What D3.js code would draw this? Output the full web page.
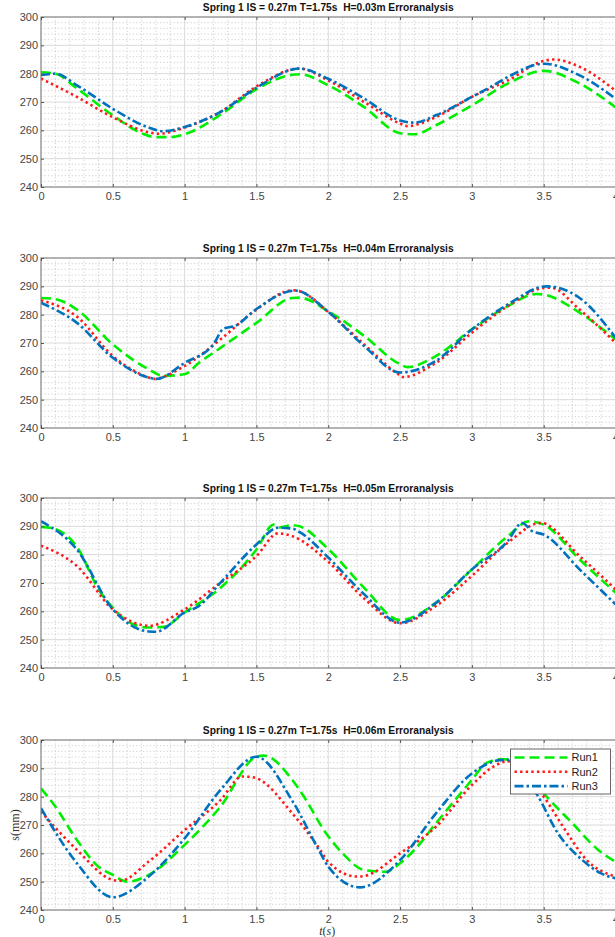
<!DOCTYPE html>
<html>
<head>
<meta charset="utf-8">
<script src="https://cdn.jsdelivr.net/npm/d3@7/dist/d3.min.js"></script>
<style>
  html, body { margin: 0; padding: 0; background: #fff; }
  svg { display: block; }
</style>
</head>
<body>
<svg id="chart" width="615" height="937"></svg>
<script>
// ---------- DATA ----------
const heights = ["0.03", "0.04", "0.05", "0.06"];
const runNames = ["Run1", "Run2", "Run3"];
const xTicks = [0, 0.5, 1, 1.5, 2, 2.5, 3, 3.5, 4];
const yTicks = [240, 250, 260, 270, 280, 290, 300];

// Panel 1: H=0.03m   [t(s), s(mm)]
const p1Run1 = [[0,280.5],[0.1,280],[0.25,274.8],[0.5,265.3],[0.7,259],[0.8,257.6],[0.9,257.6],[1,258.6],[1.25,265.5],[1.5,274.5],[1.75,279.6],[1.8,279.8],[2,275.9],[2.25,268.2],[2.5,259],[2.6,258.6],[2.75,261.8],[3,268.8],[3.25,276.5],[3.5,281],[3.75,276.5],[4,268.2]];
const p1Run2 = [[0,278.3],[0.25,271.8],[0.5,264.6],[0.75,259.3],[0.82,258.8],[1,261],[1.25,266.5],[1.5,275.5],[1.8,281.8],[2,277.6],[2.25,270],[2.5,262.4],[2.55,261.5],[2.75,264.7],[3,271.8],[3.25,277.6],[3.5,284.5],[3.57,285],[3.75,282.4],[4,274]];
const p1Run3 = [[0,279.5],[0.1,280],[0.25,275.9],[0.5,267.6],[0.75,261],[0.85,259.7],[1,261.2],[1.25,266.5],[1.5,275],[1.8,281.8],[2,278.2],[2.25,271.2],[2.5,263.5],[2.6,262.7],[2.75,265.3],[3,271.8],[3.15,275.9],[3.25,278.8],[3.5,283.5],[3.75,279.4],[4,271.2]];

// Panel 2: H=0.04m
const p2Run1 = [[0,285.9],[0.1,285.5],[0.25,281.8],[0.5,269.5],[0.75,260.7],[0.85,258.4],[1,259],[1.1,263],[1.25,268.3],[1.5,277.1],[1.75,285.9],[1.8,286],[2,281.2],[2.25,272.5],[2.5,262.5],[2.55,261.5],[2.75,265.4],[3,274.8],[3.25,283],[3.45,287.3],[3.5,287.1],[3.75,280.7],[4,271.3]];
const p2Run2 = [[0,285.1],[0.25,279.3],[0.5,265.4],[0.75,257.8],[0.78,257.3],[1,261.9],[1.25,271.3],[1.5,281.8],[1.75,288.6],[1.8,288.3],[2,281],[2.25,269.5],[2.5,258.6],[2.52,258],[2.75,263],[3,273.6],[3.25,283],[3.5,289.4],[3.55,289.5],[3.75,281.8],[4,270.1]];
const p2Run3 = [[0,284.2],[0.25,277.1],[0.5,264.8],[0.75,257.8],[0.8,257.3],[1,263],[1.2,269.5],[1.27,275],[1.35,276],[1.5,282],[1.77,288.5],[2,281],[2.25,268.9],[2.5,259.6],[2.75,263.7],[3,274.8],[3.25,283.6],[3.52,290],[3.75,285.9],[4,271.9]];

// Panel 3: H=0.05m
const p3Run1 = [[0,289.8],[0.1,289],[0.25,282.8],[0.4,267.8],[0.5,261.3],[0.6,256.5],[0.75,254.3],[0.85,254.5],[1,259.6],[1.25,268.3],[1.5,281.8],[1.62,290.6],[1.66,289.6],[1.75,290.4],[1.8,290],[2,282],[2.25,268.3],[2.5,256.9],[2.75,263],[3,274.8],[3.25,286.5],[3.4,291.8],[3.5,290.6],[3.75,278.3],[4,266.6]];
const p3Run2 = [[0,283.2],[0.25,276],[0.5,260.7],[0.75,254.9],[1,260.7],[1.25,270.1],[1.5,279.5],[1.65,287.5],[1.75,286.5],[2,277.5],[2.25,264.5],[2.5,255.8],[2.75,261.9],[3,272.5],[3.25,284.2],[3.48,291.2],[3.75,279.5],[4,267.8]];
const p3Run3 = [[0,291.8],[0.25,281.8],[0.5,260.7],[0.75,252.9],[0.8,252.8],[1,259.6],[1.1,261.9],[1.25,270.1],[1.5,283.6],[1.65,289.5],[1.75,289.2],[1.8,288],[2,279],[2.25,266],[2.5,256],[2.75,263],[3,274.8],[3.25,284.8],[3.35,291.2],[3.42,288.3],[3.5,287.1],[3.75,274.8],[4,262.5]];

// Panel 4: H=0.06m
const p4Run1 = [[0,282.9],[0.1,276.5],[0.25,264.7],[0.4,255.3],[0.5,252.4],[0.6,250],[0.75,252.4],[1,263],[1.25,276.5],[1.5,294.1],[1.55,294.5],[1.75,285.9],[1.8,282.4],[2,266],[2.1,260],[2.25,254.1],[2.4,253.5],[2.5,256.5],[2.6,261.2],[2.75,270.6],[3,285.9],[3.1,291.8],[3.2,293.2],[3.3,293],[3.52,280],[3.7,270.6],[3.88,261.2],[4,257]];
const p4Run2 = [[0,274.7],[0.25,261.2],[0.5,250.6],[0.55,250.3],[0.75,257.1],[1,268.2],[1.25,278.8],[1.4,287.1],[1.45,287],[1.5,286.5],[1.75,274.1],[1.94,261.5],[2,257],[2.2,251.8],[2.25,252],[2.5,260],[2.75,269.4],[3,284.1],[3.15,290.6],[3.25,292.5],[3.5,280],[3.65,268.2],[3.8,257.6],[4,251.8]];
const p4Run3 = [[0,275.9],[0.25,256.5],[0.5,244.5],[0.75,251.8],[1,265.3],[1.25,282.4],[1.5,294.1],[1.75,278.5],[1.94,260.6],[2,255.3],[2.22,248],[2.5,257.6],[2.75,274.1],[3,288.2],[3.2,292.9],[3.25,293],[3.45,281],[3.6,267],[3.77,257.6],[3.9,252.9],[4,251.2]];

const panelData = [
  [p1Run1, p1Run2, p1Run3],
  [p2Run1, p2Run2, p2Run3],
  [p3Run1, p3Run2, p3Run3],
  [p4Run1, p4Run2, p4Run3]
];

// ---------- STYLE ----------
const runStyles = [
  { color: "#00ee00", dash: "10,5", width: 2.6 },
  { color: "#ff1a1a", dash: "2.4,3.2", width: 2.6 },
  { color: "#0072BD", dash: "9,3,2.5,3", width: 2.6 }
];
const panelTops = [17, 258, 498, 740];
const plotH = 170;
const left = 41, right = 615.5;

const svg = d3.select("#chart");
const font = "'Liberation Sans', Arial, Helvetica, sans-serif";

const x = d3.scaleLinear().domain([0, 4]).range([left, right]);

panelData.forEach((series, pi) => {
  const top = panelTops[pi];
  const y = d3.scaleLinear().domain([240, 300]).range([top + plotH, top]);
  const g = svg.append("g");
  const clipId = "clip" + pi;
  svg.append("clipPath").attr("id", clipId).append("rect")
    .attr("x", left).attr("y", top).attr("width", right - left).attr("height", plotH);

  // minor grid
  const minorX = d3.range(0, 4.0001, 0.1).filter(v => Math.abs(v * 2 - Math.round(v * 2)) > 1e-6);
  const minorY = d3.range(240, 300.001, 2).filter(v => v % 10 !== 0);
  g.selectAll(".mx").data(minorX).join("line")
    .attr("x1", d => x(d)).attr("x2", d => x(d)).attr("y1", top).attr("y2", top + plotH)
    .attr("stroke", "#c4c4c4").attr("stroke-width", 0.8).attr("stroke-dasharray", "1.2,2.2");
  g.selectAll(".my").data(minorY).join("line")
    .attr("y1", d => y(d)).attr("y2", d => y(d)).attr("x1", left).attr("x2", right)
    .attr("stroke", "#c4c4c4").attr("stroke-width", 0.8).attr("stroke-dasharray", "1.2,2.2");
  // major grid
  g.selectAll(".gx").data(xTicks).join("line")
    .attr("x1", d => x(d)).attr("x2", d => x(d)).attr("y1", top).attr("y2", top + plotH)
    .attr("stroke", "#dadada").attr("stroke-width", 1);
  g.selectAll(".gy").data(yTicks).join("line")
    .attr("y1", d => y(d)).attr("y2", d => y(d)).attr("x1", left).attr("x2", right)
    .attr("stroke", "#dadada").attr("stroke-width", 1);

  // lines
  const line = d3.line().x(d => x(d[0])).y(d => y(d[1])).curve(d3.curveMonotoneX);
  const lg = g.append("g").attr("clip-path", `url(#${clipId})`);
  series.forEach((s, si) => {
    const st = runStyles[si];
    lg.append("path").datum(s).attr("d", line)
      .attr("fill", "none").attr("stroke", st.color).attr("stroke-width", st.width)
      .attr("stroke-dasharray", st.dash);
  });

  // axes box
  g.append("rect").attr("x", left).attr("y", top).attr("width", right - left).attr("height", plotH)
    .attr("fill", "none").attr("stroke", "#7a7a7a").attr("stroke-width", 1);

  // ticks (inward)
  const xAxisB = d3.axisBottom(x).tickValues(xTicks).tickSizeInner(-3).tickSizeOuter(0).tickPadding(5)
    .tickFormat(d3.format("~g"));
  const ax = g.append("g").attr("transform", `translate(0,${top + plotH})`).call(xAxisB);
  ax.select(".domain").remove();
  ax.selectAll("line").attr("stroke", "#555");
  ax.selectAll("text").attr("font-family", font).attr("font-size", 11).attr("fill", "#454545");
  const xAxisT = d3.axisTop(x).tickValues(xTicks).tickSizeInner(-3).tickSizeOuter(0).tickFormat("");
  const axt = g.append("g").attr("transform", `translate(0,${top})`).call(xAxisT);
  axt.select(".domain").remove();
  axt.selectAll("line").attr("stroke", "#555");

  const yAxis = d3.axisLeft(y).tickValues(yTicks).tickSizeInner(-3).tickSizeOuter(0).tickPadding(3);
  const ay = g.append("g").attr("transform", `translate(${left},0)`).call(yAxis);
  ay.select(".domain").remove();
  ay.selectAll("line").attr("stroke", "#555");
  ay.selectAll("text").attr("font-family", font).attr("font-size", 11).attr("fill", "#454545");

  // title
  const title = svg.append("text")
    .attr("x", (left + right) / 2).attr("y", top - 6)
    .attr("text-anchor", "middle").attr("font-family", font).attr("font-weight", "bold")
    .attr("font-size", 10).attr("fill", "#111")
    .attr("xml:space", "preserve")
    .style("white-space", "pre")
    .text(`Spring 1 IS = 0.27m T=1.75s  H=${heights[pi]}m Erroranalysis`);
  const w = title.node().getComputedTextLength();
  title.attr("font-size", 10 * 251 / w);

  if (pi === 3) {
    // y label
    svg.append("text")
      .attr("transform", `translate(19,${top + plotH / 2}) rotate(-90)`)
      .attr("text-anchor", "middle").attr("font-family", "'Liberation Serif', 'Times New Roman', serif")
      .attr("font-size", 12).attr("fill", "#333").text("s(mm)");
    // x label
    const xl = svg.append("text")
      .attr("x", (left + right) / 2 - 1).attr("y", top + plotH + 25)
      .attr("text-anchor", "middle").attr("font-family", "'Liberation Serif', 'Times New Roman', serif")
      .attr("font-size", 12).attr("fill", "#333");
    xl.append("tspan").attr("font-style", "italic").text("t");
    xl.append("tspan").text("(");
    xl.append("tspan").attr("font-style", "italic").text("s");
    xl.append("tspan").text(")");

    // legend
    const lx = 510.5, ly = 749, lw = 100, lh = 45;
    const leg = svg.append("g");
    leg.append("rect").attr("x", lx).attr("y", ly).attr("width", lw).attr("height", lh)
      .attr("fill", "#fff").attr("stroke", "#555").attr("stroke-width", 0.9);
    runNames.forEach((name, i) => {
      const cy = ly + 8.5 + i * 14.3;
      const st = runStyles[i];
      leg.append("line").attr("x1", lx + 4).attr("x2", lx + 57).attr("y1", cy).attr("y2", cy)
        .attr("stroke", st.color).attr("stroke-width", st.width).attr("stroke-dasharray", st.dash);
      leg.append("text").attr("x", lx + 61).attr("y", cy).attr("dy", "0.35em")
        .attr("font-family", font).attr("font-size", 11).attr("fill", "#222").text(name);
    });
  }
});
</script>
</body>
</html>
